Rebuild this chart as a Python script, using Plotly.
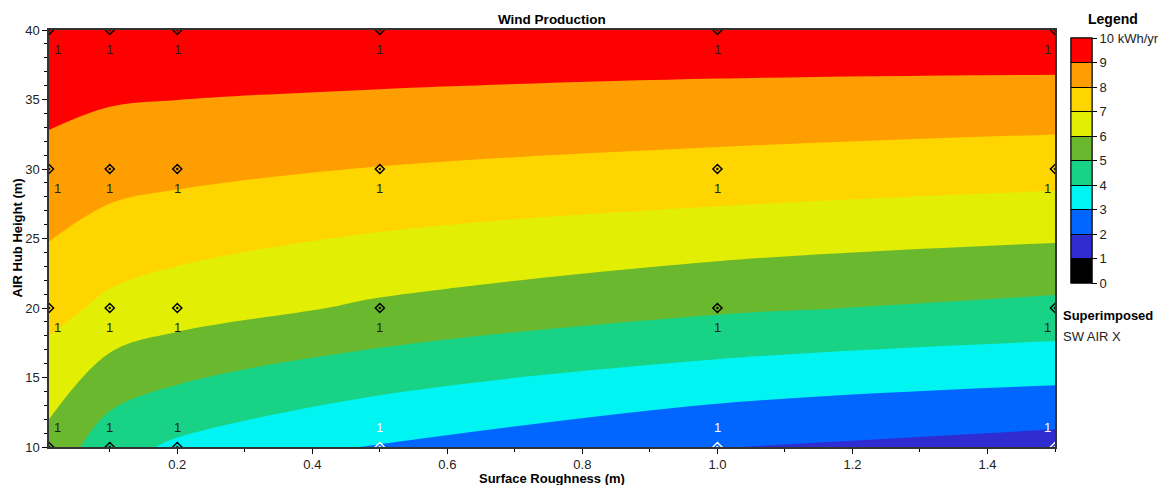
import plotly.graph_objects as go

# ---- data ----
roughness = [0.01, 0.1, 0.2, 0.5, 1.0, 1.5]          # Surface Roughness (m)
hub_height = [10, 20, 30, 40]                         # AIR Hub Height (m)
production = [                                        # Wind Production (kWh/yr)
    [5.67, 4.38, 3.82, 2.91, 2.03, 1.60],
    [7.33, 6.77, 6.45, 5.84, 5.15, 4.75],
    [8.73, 8.41, 8.27, 7.96, 7.68, 7.42],
    [9.69, 9.73, 9.74, 9.77, 9.71, 9.75],
]
sw_air_x_qty = "1"
band_colors = ["#000000", "#2F2CD2", "#0066FF", "#00F5F2", "#18D386",
               "#6AB82E", "#E3EE05", "#FFD500", "#FF9E00", "#FF0000"]
legend_tickvals = [0, 1, 2, 3, 4, 5, 6, 7, 8, 9, 10]
legend_ticktext = ["0", "1", "2", "3", "4", "5", "6", "7", "8", "9", "10 kWh/yr"]

FONT = "Arial, Liberation Sans, sans-serif"

# stepped colour scale
cs = []
n = len(band_colors)
for i, c in enumerate(band_colors):
    cs.append([i / n, c])
    cs.append([(i + 1) / n, c])

cb_common = dict(x=1.0159, xanchor="left", xpad=0, y=0.687, yanchor="middle",
                 len=245, lenmode="pixels", ypad=0, thickness=21,
                 outlinecolor="black", outlinewidth=1,
                 tickvals=legend_tickvals, ticktext=legend_ticktext,
                 tickfont=dict(family=FONT, size=13, color="#222"))

fig = go.Figure()
fig.add_trace(go.Contour(
    x=roughness, y=hub_height, z=production,
    zmin=0, zmax=10, autocontour=False,
    contours=dict(start=0, end=10, size=1, coloring="fill", showlines=False),
    line=dict(width=0), colorscale=cs, hoverinfo="skip",
    colorbar=dict(**cb_common, ticks="outside", ticklen=5, tickcolor="black"),
))
# overlay colour bar that draws separator lines across the bands
fig.add_trace(go.Scatter(
    x=[None], y=[None], mode="markers", showlegend=False, hoverinfo="skip",
    marker=dict(color=[0], cmin=0, cmax=10, colorscale=cs, showscale=True,
                colorbar=dict(**cb_common, ticks="inside", ticklen=21,
                              tickcolor="black", tickwidth=1,
                              showticklabels=False)),
))

# superimposed markers (SW AIR X)
mx, my, mc = [], [], []
annotations = []
for j, h in enumerate(hub_height):
    for i, r in enumerate(roughness):
        v = production[j][i]
        col = "white" if v < 3.5 else "black"
        mx.append(r); my.append(h); mc.append(col)
        xs = 8 if i == 0 else (-8 if i == len(roughness) - 1 else 0)
        ys = 20 if j == 0 else -19
        annotations.append(dict(x=r, y=h, xref="x", yref="y", text=sw_air_x_qty,
                                showarrow=False, xshift=xs, yshift=ys,
                                font=dict(family=FONT, size=13,
                                          color="white" if col == "white" else "#222")))
fig.add_trace(go.Scatter(
    x=mx, y=my, mode="markers", showlegend=False, hoverinfo="skip", cliponaxis=True,
    marker=dict(symbol="diamond-open-dot", size=7, color=mc, line=dict(width=1.5, color=mc)),
))

annotations += [
    dict(text="<b>Wind Production</b>", xref="paper", yref="paper", x=0.5, y=1,
         yanchor="bottom", yshift=1, showarrow=False,
         font=dict(family=FONT, size=13.5, color="black")),
    dict(text="<b>Legend</b>", xref="paper", yref="paper", x=1.0572, y=1,
         xanchor="center", yanchor="bottom", yshift=1, showarrow=False,
         font=dict(family=FONT, size=14, color="black")),
    dict(text="<b>Superimposed</b>", xref="paper", yref="paper", x=1.0055, y=0.315,
         xanchor="left", yanchor="middle", showarrow=False,
         font=dict(family=FONT, size=13, color="black")),
    dict(text="SW AIR X", xref="paper", yref="paper", x=1.0055, y=0.265,
         xanchor="left", yanchor="middle", showarrow=False,
         font=dict(family=FONT, size=13, color="#222")),
    dict(text="<b>Surface Roughness (m)</b>", xref="paper", yref="paper", x=0.5, y=0,
         xanchor="center", yanchor="middle", yshift=-31, showarrow=False,
         font=dict(family=FONT, size=13, color="black")),
    dict(text="<b>AIR Hub Height (m)</b>", xref="paper", yref="paper", x=0, y=0.5,
         xanchor="center", yanchor="middle", xshift=-32, textangle=-90, showarrow=False,
         font=dict(family=FONT, size=13, color="black")),
]

# the page body adds an 8 px offset; size and margins compensate for it
fig.update_layout(
    width=1158, height=477, autosize=False,
    margin=dict(l=41, r=111, t=22, b=38, autoexpand=False),
    paper_bgcolor="white", plot_bgcolor="white",
    font=dict(family=FONT, size=13, color="#222"),
    annotations=annotations,
    xaxis=dict(range=[0.01, 1.5], tick0=0, dtick=0.2, tickformat=".1f",
               ticks="outside", ticklen=5, tickcolor="black", showgrid=False, zeroline=False,
               showline=True, linecolor="#333", linewidth=1.5, mirror=True,
               tickfont=dict(family=FONT, size=13, color="#222"),
               minor=dict(dtick=0.1, tick0=0, ticks="outside", ticklen=3, tickcolor="black")),
    yaxis=dict(range=[10, 40], tick0=10, dtick=5,
               ticks="outside", ticklen=5, tickcolor="black", showgrid=False, zeroline=False,
               showline=True, linecolor="#333", linewidth=1.5, mirror=True,
               tickfont=dict(family=FONT, size=13, color="#222"),
               minor=dict(dtick=1, ticks="outside", ticklen=3, tickcolor="black")),
)

fig.write_html("out.html")
